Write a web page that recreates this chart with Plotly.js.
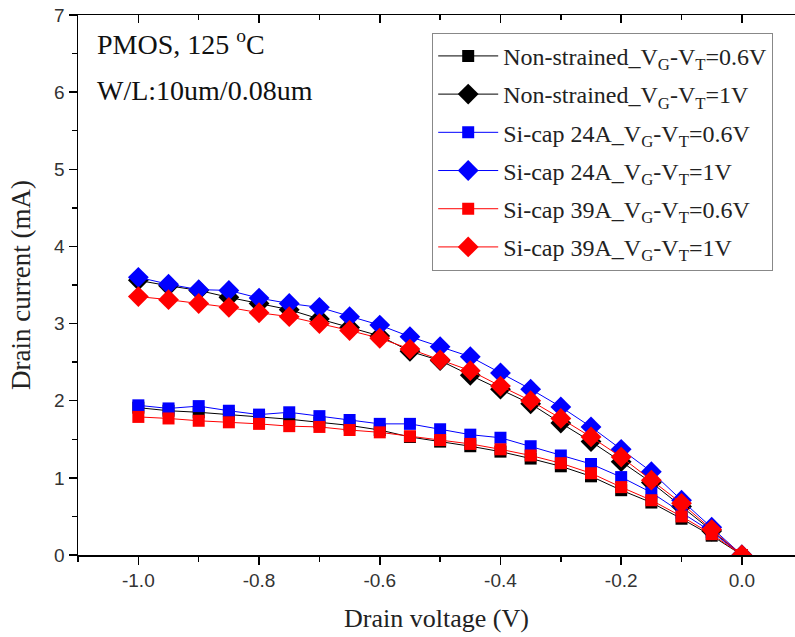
<!DOCTYPE html>
<html>
<head>
<meta charset="utf-8">
<script src="https://cdn.plot.ly/plotly-3.0.1.min.js"></script>
<style>html,body{margin:0;padding:0;background:#fff;}#chart{width:795px;height:637px;}</style>
</head>
<body>
<div id="chart"></div>
<script>
const drainVoltage = [-1.0,-0.95,-0.9,-0.85,-0.8,-0.75,-0.7,-0.65,-0.6,-0.55,-0.5,-0.45,-0.4,-0.35,-0.3,-0.25,-0.2,-0.15,-0.1,-0.05,0.0];

const nonStrained06 = [1.91,1.87,1.85,1.82,1.79,1.76,1.72,1.68,1.62,1.53,1.47,1.41,1.34,1.25,1.15,1.02,0.84,0.68,0.47,0.25,0.0];
const nonStrained1  = [3.56,3.49,3.43,3.34,3.26,3.18,3.06,2.95,2.84,2.64,2.52,2.33,2.15,1.96,1.71,1.47,1.21,0.94,0.63,0.31,0.0];
const siCap24A06    = [1.94,1.90,1.93,1.87,1.82,1.85,1.80,1.75,1.70,1.70,1.63,1.56,1.52,1.41,1.29,1.18,1.01,0.81,0.55,0.30,0.0];
const siCap24A1     = [3.60,3.51,3.44,3.43,3.33,3.26,3.21,3.09,2.98,2.83,2.70,2.57,2.36,2.15,1.92,1.66,1.37,1.08,0.71,0.36,0.0];
const siCap39A06    = [1.79,1.77,1.74,1.72,1.70,1.67,1.66,1.62,1.59,1.54,1.49,1.44,1.37,1.29,1.19,1.06,0.88,0.71,0.50,0.27,0.0];
const siCap39A1     = [3.35,3.31,3.26,3.21,3.14,3.09,3.00,2.91,2.81,2.67,2.53,2.39,2.19,2.00,1.77,1.53,1.27,0.97,0.67,0.33,0.0];

const seriesNames = [
  "Non-strained_V<sub>G</sub>-V<sub>T</sub>=0.6V",
  "Non-strained_V<sub>G</sub>-V<sub>T</sub>=1V",
  "Si-cap 24A_V<sub>G</sub>-V<sub>T</sub>=0.6V",
  "Si-cap 24A_V<sub>G</sub>-V<sub>T</sub>=1V",
  "Si-cap 39A_V<sub>G</sub>-V<sub>T</sub>=0.6V",
  "Si-cap 39A_V<sub>G</sub>-V<sub>T</sub>=1V"
];
const xTickVals = [-1.0,-0.8,-0.6,-0.4,-0.2,0.0];
const xTickText = ["-1.0","-0.8","-0.6","-0.4","-0.2","0.0"];
const yTickVals = [0,1,2,3,4,5,6,7];

const seriesData = [nonStrained06, nonStrained1, siCap24A06, siCap24A1, siCap39A06, siCap39A1];
const colors = ["#000000","#000000","#0000ff","#0000ff","#ff0000","#ff0000"];
const symbols = ["square","diamond","square","diamond","square","diamond"];
const sizes = [12,16,12,16,12,16];

const traces = seriesData.map((ys, i) => ({
  x: drainVoltage, y: ys, name: seriesNames[i], legendgroup: "g" + i,
  type: "scatter", mode: "lines+markers",
  line: {color: colors[i], width: 1},
  marker: {color: colors[i], symbol: symbols[i], size: sizes[i], line: {width: 0}}
}));
// invisible trace to activate the top axis
traces.push({x: [-1], y: [0], xaxis: "x2", yaxis: "y", mode: "markers", marker: {opacity: 0}, showlegend: false, hoverinfo: "skip"});

const serif = "Liberation Serif, Times New Roman, serif";
const sans = "Liberation Sans, Arial, sans-serif";

const layout = {
  width: 795, height: 637,
  margin: {l: 78, r: 0, t: 15, b: 82},
  paper_bgcolor: "#fff", plot_bgcolor: "#fff",
  showlegend: true,
  legend: {
    x: 0.494, y: 0.967, xanchor: "left", yanchor: "top",
    bgcolor: "#fff", bordercolor: "#888", borderwidth: 1,
    font: {family: serif, size: 24, color: "#222"},
    itemwidth: 60, tracegroupgap: 4
  },
  xaxis: {
    range: [-1.1, 0.088], showgrid: false, zeroline: false,
    showline: true, linecolor: "#000", linewidth: 1.5,
    ticks: "outside", ticklen: 8, tickwidth: 1.5, tickcolor: "#000",
    tickvals: xTickVals, ticktext: xTickText,
    tickfont: {family: sans, size: 19, color: "#333"},
    minor: {dtick: 0.1, ticks: "outside", ticklen: 5, tickwidth: 1.5, tickcolor: "#000"},
    title: {text: "Drain voltage (V)", font: {family: serif, size: 26, color: "#222"}, standoff: 18}
  },
  xaxis2: {
    overlaying: "x", side: "top", matches: "x", range: [-1.1, 0.088],
    showgrid: false, zeroline: false, showticklabels: false,
    showline: true, linecolor: "#000", linewidth: 1.5,
    ticks: "inside", ticklen: 8, tickwidth: 1.5, tickcolor: "#000",
    tickvals: xTickVals,
    minor: {dtick: 0.1, ticks: "inside", ticklen: 5, tickwidth: 1.5, tickcolor: "#000"}
  },
  yaxis: {
    range: [0, 7], showgrid: false, zeroline: false,
    showline: true, linecolor: "#000", linewidth: 1.5,
    ticks: "outside", ticklen: 8, tickwidth: 1.5, tickcolor: "#000",
    tickvals: yTickVals,
    tickfont: {family: sans, size: 19, color: "#333"},
    minor: {dtick: 0.5, ticks: "outside", ticklen: 5, tickwidth: 1.5, tickcolor: "#000"},
    title: {text: "Drain current (mA)", font: {family: serif, size: 27, color: "#222"}, standoff: 15}
  },
  annotations: [
    {xref: "paper", yref: "paper", x: 0.024, y: 0.985, xanchor: "left", yanchor: "top", showarrow: false,
     text: "PMOS, 125 <sup>o</sup>C", font: {family: serif, size: 28, color: "#111"}},
    {xref: "paper", yref: "paper", x: 0.024, y: 0.893, xanchor: "left", yanchor: "top", showarrow: false,
     text: "W/L:10um/0.08um", font: {family: serif, size: 28, color: "#111"}}
  ]
};

Plotly.newPlot("chart", traces, layout, {displayModeBar: false, staticPlot: true});
</script>
</body>
</html>
